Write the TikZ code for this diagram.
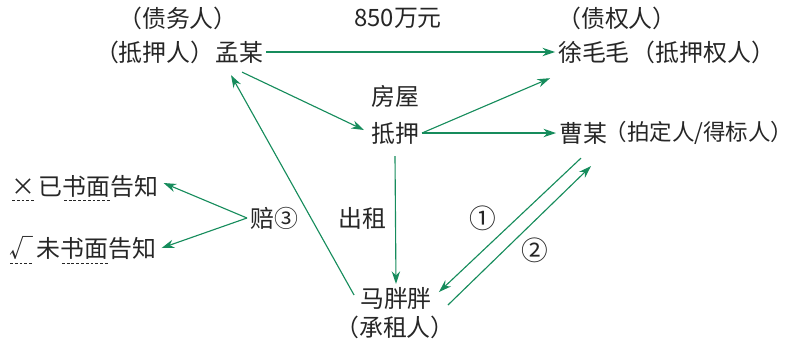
\documentclass[tikz,border=0pt]{standalone}
\usepackage{fontspec}
\setmainfont{Noto Sans CJK SC}
\usepackage{tikz}
\usetikzlibrary{arrows.meta, positioning}
\definecolor{arrgreen}{RGB}{22,140,92}
% dashed underline under a piece of text
\newcommand\dashul[1]{\setbox0=\hbox{#1}\leavevmode\rlap{\raisebox{-4pt}{\hbox to \wd0{\xleaders\hbox to 3.2pt{\hss\rule{2pt}{0.45pt}\hss}\hfill}}}\box0}

\begin{document}
\begin{tikzpicture}[
    x=0.025cm, y=-0.025cm,
    every node/.style={font=\fontsize{17}{19}\selectfont, text=black!85, inner sep=2pt},
    arr/.style={draw=arrgreen, line width=0.8pt, -{Stealth[length=9pt, width=6pt]}},
    circ/.style={font=\fontsize{19}{21}\selectfont}
]
\useasboundingbox (0,0) rectangle (796,345);

% top row
\node (debtor)    at (178,18)  {（债务人）};
\node (amount)    at (398,18)  {850万元};
\node (creditor)  at (617,18)  {（债权人）};
\node (mou)       at (239,52)  {孟某};
\node[left=-4pt of mou]  (mortgagor) {（抵押人）};
\node (xu)        at (594,52)  {徐毛毛};
\node[right=-3pt of xu]  (mortgagee) {（抵押权人）};

% middle
\node (house)  at (395,96)  {房屋};
\node (pledge) at (395,133) {抵押};
\node (cao)    at (583,133) {曹某};
\node[right=-4pt of cao, inner sep=0pt, font=\fontsize{16}{19}\selectfont] (buyer) {（拍定人/得标人）};

% left side
\node[anchor=west] (known)   at (8,188) {\dashul{×}\,已\dashul{书面}告知};
\node[anchor=west] (unknown) at (6,250) {\dashul{√}\,未\dashul{书面}告知};
\node (pay)           at (274,218) {赔③};
\node (lease)         at (362,218) {出租};
\node[circ] (one)     at (483,218) {①};
\node[circ] (two)     at (535,250) {②};

% bottom
\node (ma)     at (396,298) {马胖胖};
\node (lessee) at (395,327) {（承租人）};

% connectors
\draw[arr] (mou.east) -- (xu.west);
\draw[arr] ([shift={(3,6)}]mou.south) -- ([shift={(-4,-3)}]pledge.west);
\draw[arr] ([shift={(-3,-3)}]ma.west) -- ([shift={(-8,9)}]mou.south);
\draw[arr] (pledge.east) -- ([shift={(-5,12)}]xu.south west);
\draw[arr] (pledge.east) -- (cao.west);
\draw[arr] ([shift={(0,9)}]pledge.south) -- (ma.north);
\draw[arr] ([shift={(-2,11)}]cao.south) -- ([shift={(4,-6)}]ma.east);
\draw[arr] ([shift={(13,7)}]ma.east) -- ([shift={(8,19)}]cao.south);
\draw[arr] (pay.west) -- ([shift={(2,-5)}]known.east);
\draw[arr] (pay.west) -- ([shift={(2,-2)}]unknown.east);
\end{tikzpicture}
\end{document}
